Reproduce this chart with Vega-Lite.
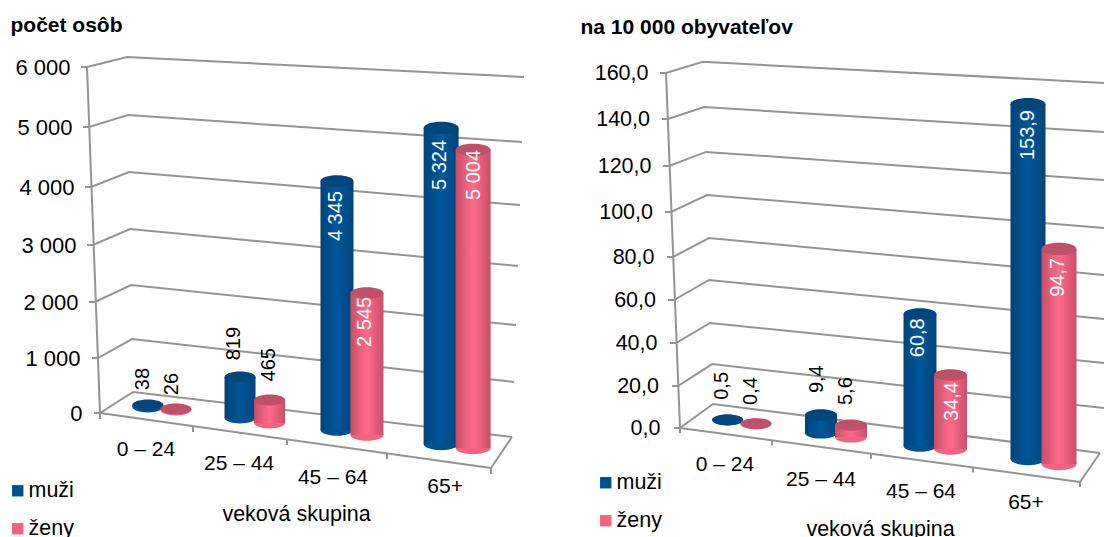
{"$schema":"https://vega.github.io/schema/vega-lite/v6.json","padding":0,"background":"white","spacing":0,"resolve":{"legend":{"color":"independent"}},"config":{"view":{"stroke":null},"font":"Liberation Sans"},"datasets":{"abs":[{"age":"0 – 24","group":0,"sex":"muži","value":38,"label":"38"},{"age":"25 – 44","group":1,"sex":"muži","value":819,"label":"819"},{"age":"45 – 64","group":2,"sex":"muži","value":4345,"label":"4 345"},{"age":"65+","group":3,"sex":"muži","value":5324,"label":"5 324"},{"age":"0 – 24","group":0,"sex":"ženy","value":26,"label":"26"},{"age":"25 – 44","group":1,"sex":"ženy","value":465,"label":"465"},{"age":"45 – 64","group":2,"sex":"ženy","value":2545,"label":"2 545"},{"age":"65+","group":3,"sex":"ženy","value":5004,"label":"5 004"}],"rate":[{"age":"0 – 24","group":0,"sex":"muži","value":0.5,"label":"0,5"},{"age":"25 – 44","group":1,"sex":"muži","value":9.4,"label":"9,4"},{"age":"45 – 64","group":2,"sex":"muži","value":60.8,"label":"60,8"},{"age":"65+","group":3,"sex":"muži","value":153.9,"label":"153,9"},{"age":"0 – 24","group":0,"sex":"ženy","value":0.4,"label":"0,4"},{"age":"25 – 44","group":1,"sex":"ženy","value":5.6,"label":"5,6"},{"age":"45 – 64","group":2,"sex":"ženy","value":34.4,"label":"34,4"},{"age":"65+","group":3,"sex":"ženy","value":94.7,"label":"94,7"}],"gridL":[{"line":"6000","x":81,"v":6000},{"line":"6000","x":87,"v":6000},{"line":"6000","x":127,"v":6167},{"line":"6000","x":524,"v":5833},{"line":"5000","x":83,"v":5000},{"line":"5000","x":89,"v":5000},{"line":"5000","x":128,"v":5200},{"line":"5000","x":522,"v":4750},{"line":"4000","x":85,"v":4000},{"line":"4000","x":91,"v":4000},{"line":"4000","x":129,"v":4250},{"line":"4000","x":520,"v":3690},{"line":"3000","x":87,"v":3000},{"line":"3000","x":93,"v":3000},{"line":"3000","x":130,"v":3276},{"line":"3000","x":518,"v":2632},{"line":"2000","x":89,"v":2000},{"line":"2000","x":95,"v":2000},{"line":"2000","x":131,"v":2298},{"line":"2000","x":516,"v":1589},{"line":"1000","x":92,"v":1000},{"line":"1000","x":98,"v":1000},{"line":"1000","x":132,"v":1339},{"line":"1000","x":514,"v":564},{"line":"0","x":94,"v":0},{"line":"0","x":100,"v":0},{"line":"0","x":133,"v":382},{"line":"0","x":512,"v":-436},{"line":"front","x":100,"v":0},{"line":"front","x":491,"v":-1000},{"line":"side","x":491,"v":-1000},{"line":"side","x":512,"v":-436},{"line":"axis","x":87,"v":6000},{"line":"axis","x":100,"v":0},{"line":"t0","x":100,"v":0},{"line":"t0","x":100,"v":-109},{"line":"t1","x":193,"v":-236},{"line":"t1","x":193,"v":-345},{"line":"t2","x":287,"v":-473},{"line":"t2","x":287,"v":-582},{"line":"t3","x":387,"v":-727},{"line":"t3","x":387,"v":-836},{"line":"t4","x":491,"v":-1000},{"line":"t4","x":491,"v":-1109}],"gridR":[{"line":"160","x":660,"v":160},{"line":"160","x":666,"v":160},{"line":"160","x":703,"v":164.8},{"line":"160","x":1104,"v":155.7},{"line":"140","x":662,"v":140},{"line":"140","x":668,"v":140},{"line":"140","x":704,"v":145.2},{"line":"140","x":1104,"v":134.5},{"line":"120","x":663,"v":120},{"line":"120","x":669,"v":120},{"line":"120","x":706,"v":126},{"line":"120","x":1104,"v":113.9},{"line":"100","x":665,"v":100},{"line":"100","x":671,"v":100},{"line":"100","x":707,"v":107.4},{"line":"100","x":1104,"v":92.9},{"line":"80","x":667,"v":80},{"line":"80","x":673,"v":80},{"line":"80","x":709,"v":88.4},{"line":"80","x":1104,"v":71.6},{"line":"60","x":668,"v":60},{"line":"60","x":674,"v":60},{"line":"60","x":709,"v":69.3},{"line":"60","x":1104,"v":51.2},{"line":"40","x":670,"v":40},{"line":"40","x":676,"v":40},{"line":"40","x":710,"v":49.3},{"line":"40","x":1104,"v":30.7},{"line":"20","x":672,"v":20},{"line":"20","x":678,"v":20},{"line":"20","x":712,"v":30.2},{"line":"20","x":1104,"v":9.5},{"line":"0","x":674,"v":0},{"line":"0","x":680,"v":0},{"line":"0","x":713,"v":11.4},{"line":"0","x":1100,"v":-11.9},{"line":"front","x":680,"v":0},{"line":"front","x":1080,"v":-25.7},{"line":"side","x":1080,"v":-25.7},{"line":"side","x":1100,"v":-11.9},{"line":"axis","x":666,"v":160},{"line":"axis","x":680,"v":0},{"line":"t0","x":680,"v":0},{"line":"t0","x":680,"v":-2.4},{"line":"t1","x":772,"v":-5.9},{"line":"t1","x":772,"v":-8.3},{"line":"t2","x":871,"v":-12.3},{"line":"t2","x":871,"v":-14.7},{"line":"t3","x":973,"v":-18.9},{"line":"t3","x":973,"v":-21.2},{"line":"t4","x":1080,"v":-25.7},{"line":"t4","x":1080,"v":-28.1}]},"hconcat":[{"width":552,"height":537,"resolve":{"scale":{"x":"independent"}},"layer":[{"data":{"name":"gridL"},"mark":{"type":"line","color":"#949494","strokeWidth":2},"encoding":{"x":{"field":"x","type":"quantitative","axis":null,"scale":{"domain":[0,552],"nice":false,"zero":false}},"y":{"field":"v","type":"quantitative","scale":{"domain":[-2254,0,1000,2000,3000,4000,5000,6000,7117],"range":[537,413,358,302,245,187,127,67,0],"nice":false,"zero":false},"axis":{"values":[0,1000,2000,3000,4000,5000,6000],"domain":false,"ticks":false,"grid":false,"labelExpr":"replace(format(datum.value,','),',',' ')","labelFontSize":22,"labelColor":"#000","labelPadding":{"expr":"datum.value/500-82"},"title":"počet osôb","titleAngle":0,"titleX":10,"titleY":25,"titleAlign":"left","titleBaseline":"middle","titleFontSize":21,"titleFontWeight":"bold","titleColor":"#000"}},"detail":{"field":"line"}}},{"data":{"name":"abs"},"encoding":{"x":{"field":"age","type":"nominal","sort":null,"scale":{"type":"band","domain":["0 – 24","25 – 44","45 – 64","65+"],"range":[100,491],"paddingInner":0,"paddingOuter":0},"axis":{"title":"veková skupina","labels":false,"ticks":false,"domain":false,"grid":false,"titleX":296,"titleY":-23,"titleBaseline":"middle","titleFontSize":21.5,"titleFontWeight":"normal","titleColor":"#000"}}},"layer":[{"mark":{"type":"point","filled":true,"opacity":1,"shape":"M-1,0A1,0.35,0,1,1,1,0A1,0.35,0,1,1,-1,0Z","size":{"expr":"pow([31,31,33,35][datum.group],2)"},"xOffset":{"expr":"datum.sex=='muži'?[-1,-6.6,-7.4,-1][datum.group]:[27,23,22.6,31][datum.group]"},"yOffset":{"expr":"datum.sex=='muži'?[-6,5,17,31][datum.group]:[-3,10,22,35][datum.group]"}},"encoding":{"y":{"datum":0,"type":"quantitative"},"color":{"field":"sex","type":"nominal","scale":{"domain":["muži","ženy"],"range":["#00528F","#F4627F"]},"legend":{"orient":"none","legendX":7,"legendY":480,"title":null,"symbolType":"square","symbolSize":130,"symbolStrokeWidth":0,"labelFontSize":21.5,"labelColor":"#000","rowPadding":15,"labelOffset":0}}}},{"transform":[{"filter":"datum.sex=='muži'"}],"mark":{"type":"bar","width":{"expr":"[31,31,33,35][datum.group]"},"xOffset":{"expr":"[-1,-6.6,-7.4,-1][datum.group]"},"yOffset":{"expr":"[-6,9,14.7,20.4][datum.group]"},"y2Offset":{"expr":"[-6,5,17,31][datum.group]"},"color":{"gradient":"linear","x1":0,"x2":1,"y1":0,"y2":0,"stops":[{"offset":0,"color":"#00437A"},{"offset":0.5,"color":"#00579B"},{"offset":1,"color":"#00437A"}]}},"encoding":{"y":{"field":"value","type":"quantitative","stack":null},"y2":{"datum":0}}},{"transform":[{"filter":"datum.sex=='ženy'"}],"mark":{"type":"bar","width":{"expr":"[31,31,33,35][datum.group]"},"xOffset":{"expr":"[27,23,22.6,31][datum.group]"},"yOffset":{"expr":"[-2.6,12.6,22,23][datum.group]"},"y2Offset":{"expr":"[-3,10,22,35][datum.group]"},"color":{"gradient":"linear","x1":0,"x2":1,"y1":0,"y2":0,"stops":[{"offset":0,"color":"#C94F69"},{"offset":0.5,"color":"#FF6B8A"},{"offset":1,"color":"#C94F69"}]}},"encoding":{"y":{"field":"value","type":"quantitative","stack":null},"y2":{"datum":0}}},{"mark":{"type":"point","filled":true,"opacity":1,"shape":"M-1,0A1,0.35,0,1,1,1,0A1,0.35,0,1,1,-1,0Z","size":{"expr":"pow([31,31,33,35][datum.group],2)"},"xOffset":{"expr":"datum.sex=='muži'?[-1,-6.6,-7.4,-1][datum.group]:[27,23,22.6,31][datum.group]"},"yOffset":{"expr":"datum.sex=='muži'?[-6,9,14.7,20.4][datum.group]:[-2.6,12.6,22,23][datum.group]"},"fill":{"expr":"datum.sex=='muži'?'#00467C':'#BE5069'"}},"encoding":{"y":{"field":"value","type":"quantitative"}}},{"mark":{"type":"text","angle":270,"align":"right","baseline":"middle","fontSize":20,"xOffset":{"expr":"datum.sex=='muži'?[-5.9,-12.6,-8.4,-2][datum.group]:[23,22.4,20.6,31.4][datum.group]"},"yOffset":{"expr":"datum.sex=='muži'?[-43,-41,24.7,32.4][datum.group]:[-38.6,-39.4,26,23.2][datum.group]"},"fill":{"expr":"datum.group<2?'#000':'#fff'"}},"encoding":{"y":{"field":"value","type":"quantitative"},"text":{"field":"label"}}},{"transform":[{"filter":"datum.sex=='muži'"}],"mark":{"type":"text","fontSize":21,"fill":"#000","xOffset":{"expr":"[-3,-7.6,-11.4,3][datum.group]"},"yOffset":{"expr":"[37,51,65,74][datum.group]"}},"encoding":{"y":{"datum":0,"type":"quantitative"},"text":{"field":"age"}}}]}]},{"width":552,"height":537,"resolve":{"scale":{"x":"independent"}},"layer":[{"data":{"name":"gridR"},"mark":{"type":"line","color":"#949494","strokeWidth":2},"encoding":{"x":{"field":"x","type":"quantitative","axis":null,"scale":{"domain":[552,1104],"nice":false,"zero":false}},"y":{"field":"v","type":"quantitative","scale":{"domain":[-51.9,0,20,40,60,80,100,120,140,160,191.4],"range":[537,428,386,343,300,257,212,166,119,73,0],"nice":false,"zero":false},"axis":{"values":[0,20,40,60,80,100,120,140,160],"domain":false,"ticks":false,"grid":false,"labelExpr":"replace(format(datum.value,'.1f'),'.',',')","labelFontSize":21.5,"labelColor":"#000","labelPadding":{"expr":"datum.value*0.075-108"},"title":"na 10 000 obyvateľov","titleAngle":0,"titleX":28,"titleY":27,"titleAlign":"left","titleBaseline":"middle","titleFontSize":21,"titleFontWeight":"bold","titleColor":"#000"}},"detail":{"field":"line"}}},{"data":{"name":"rate"},"encoding":{"x":{"field":"age","type":"nominal","sort":null,"scale":{"type":"band","domain":["0 – 24","25 – 44","45 – 64","65+"],"range":[128,528],"paddingInner":0,"paddingOuter":0},"axis":{"title":"veková skupina","labels":false,"ticks":false,"domain":false,"grid":false,"titleX":328,"titleY":-8,"titleBaseline":"middle","titleFontSize":21.5,"titleFontWeight":"normal","titleColor":"#000"}}},"layer":[{"mark":{"type":"point","filled":true,"opacity":1,"shape":"M-1,0A1,0.35,0,1,1,1,0A1,0.35,0,1,1,-1,0Z","size":{"expr":"pow([31,32,33,35][datum.group],2)"},"xOffset":{"expr":"datum.sex=='muži'?[-2.4,-9,-10,-2][datum.group]:[26,21,20.5,29][datum.group]"},"yOffset":{"expr":"datum.sex=='muži'?[-8,5,18,31][datum.group]:[-4,9,21,36][datum.group]"}},"encoding":{"y":{"datum":0,"type":"quantitative"},"color":{"field":"sex","type":"nominal","scale":{"domain":["muži","ženy"],"range":["#00528F","#F4627F"]},"legend":{"orient":"none","legendX":43,"legendY":472,"title":null,"symbolType":"square","symbolSize":130,"symbolStrokeWidth":0,"labelFontSize":21.5,"labelColor":"#000","rowPadding":15,"labelOffset":0}}}},{"transform":[{"filter":"datum.sex=='muži'"}],"mark":{"type":"bar","width":{"expr":"[31,32,33,35][datum.group]"},"xOffset":{"expr":"[-2.4,-9,-10,-2][datum.group]"},"yOffset":{"expr":"[-7,6.7,15.7,17][datum.group]"},"y2Offset":{"expr":"[-8,5,18,31][datum.group]"},"color":{"gradient":"linear","x1":0,"x2":1,"y1":0,"y2":0,"stops":[{"offset":0,"color":"#00437A"},{"offset":0.5,"color":"#00579B"},{"offset":1,"color":"#00437A"}]}},"encoding":{"y":{"field":"value","type":"quantitative","stack":null},"y2":{"datum":0}}},{"transform":[{"filter":"datum.sex=='ženy'"}],"mark":{"type":"bar","width":{"expr":"[31,32,33,35][datum.group]"},"xOffset":{"expr":"[26,21,20.5,29][datum.group]"},"yOffset":{"expr":"[-3.6,8.8,20,25][datum.group]"},"y2Offset":{"expr":"[-4,9,21,36][datum.group]"},"color":{"gradient":"linear","x1":0,"x2":1,"y1":0,"y2":0,"stops":[{"offset":0,"color":"#C94F69"},{"offset":0.5,"color":"#FF6B8A"},{"offset":1,"color":"#C94F69"}]}},"encoding":{"y":{"field":"value","type":"quantitative","stack":null},"y2":{"datum":0}}},{"mark":{"type":"point","filled":true,"opacity":1,"shape":"M-1,0A1,0.35,0,1,1,1,0A1,0.35,0,1,1,-1,0Z","size":{"expr":"pow([31,32,33,35][datum.group],2)"},"xOffset":{"expr":"datum.sex=='muži'?[-2.4,-9,-10,-2][datum.group]:[26,21,20.5,29][datum.group]"},"yOffset":{"expr":"datum.sex=='muži'?[-7,6.7,15.7,17][datum.group]:[-3.6,8.8,20,25][datum.group]"},"fill":{"expr":"datum.sex=='muži'?'#00467C':'#BE5069'"}},"encoding":{"y":{"field":"value","type":"quantitative"}}},{"mark":{"type":"text","angle":270,"align":"right","baseline":"middle","fontSize":20,"xOffset":{"expr":"datum.sex=='muži'?[-8,-13,-12,-2][datum.group]:[21,16,22,28][datum.group]"},"yOffset":{"expr":"datum.sex=='muži'?[-55,-43,20,23][datum.group]:[-50,-39,27,34][datum.group]"},"fill":{"expr":"datum.group<2?'#000':'#fff'"}},"encoding":{"y":{"field":"value","type":"quantitative"},"text":{"field":"label"}}},{"transform":[{"filter":"datum.sex=='muži'"}],"mark":{"type":"text","fontSize":21,"fill":"#000","xOffset":{"expr":"[-5,-9,-9,-4][datum.group]"},"yOffset":{"expr":"[37,52,64,75][datum.group]"}},"encoding":{"y":{"datum":0,"type":"quantitative"},"text":{"field":"age"}}}]}]}]}
